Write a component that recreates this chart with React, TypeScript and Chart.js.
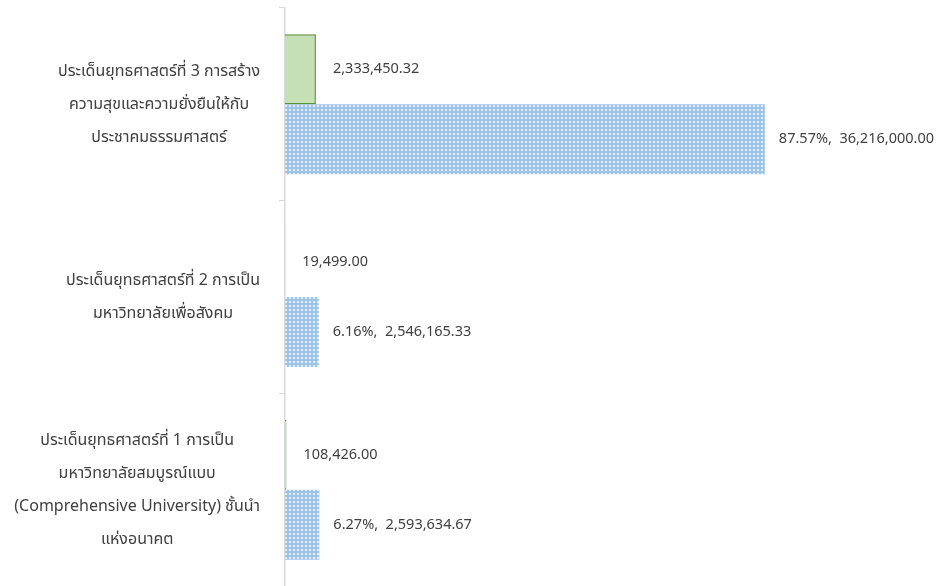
import React, { useEffect, useRef } from "react";
import { Chart, registerables } from "chart.js";

Chart.register(...registerables);

const categories: string[][] = [
  ["ประเด็นยุทธศาสตร์ที่ 3 การสร้าง", "ความสุขและความยั่งยืนให้กับ", "ประชาคมธรรมศาสตร์"],
  ["ประเด็นยุทธศาสตร์ที่ 2 การเป็น", "มหาวิทยาลัยเพื่อสังคม"],
  ["ประเด็นยุทธศาสตร์ที่ 1 การเป็น", "มหาวิทยาลัยสมบูรณ์แบบ", "(Comprehensive University) ชั้นนำ", "แห่งอนาคต"],
];
const greenValues = [2333450.32, 19499.0, 108426.0];
const blueValues = [36216000.0, 2546165.33, 2593634.67];

const FONT = '"Noto Sans", "Noto Sans Thai", "Leelawadee UI", Tahoma, sans-serif';
const TEXT = "#404040";

function fmt(v: number) {
  return v.toLocaleString("en-US", { minimumFractionDigits: 2, maximumFractionDigits: 2 });
}

function makePattern(): CanvasPattern | string {
  const c = document.createElement("canvas");
  c.width = 4;
  c.height = 4;
  const g = c.getContext("2d");
  if (!g) return "#9dc3e6";
  g.fillStyle = "#9dc3e6";
  g.fillRect(0, 0, 4, 4);
  g.fillStyle = "#e4eefa";
  g.fillRect(1, 1, 2, 2);
  return g.createPattern(c, "repeat") || "#9dc3e6";
}

const labelPlugin = {
  id: "customLabels",
  afterDraw(chart: any) {
    const ctx = chart.ctx;
    const yScale = chart.scales.y;
    ctx.save();
    // category labels
    ctx.font = `16px ${FONT}`;
    ctx.fillStyle = TEXT;
    ctx.textBaseline = "middle";
    ctx.textAlign = "center";
    const right = yScale.right - 25;
    const lh = 33;
    categories.forEach((lines, i) => {
      const cy = yScale.getPixelForValue(i);
      const widest = Math.max(...lines.map((l) => ctx.measureText(l).width));
      const cx = right - widest / 2;
      const start = cy - ((lines.length - 1) * lh) / 2;
      lines.forEach((l, j) => ctx.fillText(l, cx, start + j * lh));
    });
    // data labels
    ctx.font = `14.5px ${FONT}`;
    ctx.textAlign = "left";
    const blueTotal = blueValues.reduce((a, b) => a + b, 0);
    chart.data.datasets.forEach((ds: any, di: number) => {
      const meta = chart.getDatasetMeta(di);
      meta.data.forEach((el: any, i: number) => {
        const v = ds.data[i];
        let t = fmt(v);
        let off = 17;
        if (di === 1) {
          t = ((v / blueTotal) * 100).toFixed(2) + "%,  " + fmt(v);
          off = 14;
        }
        ctx.fillText(t, el.x + off, el.y);
      });
    });
    ctx.restore();
  },
};

export default function App() {
  const ref = useRef<HTMLCanvasElement | null>(null);
  useEffect(() => {
    if (!ref.current) return;
    const chart = new Chart(ref.current, {
      type: "bar",
      data: {
        labels: categories.map((c) => c.join(" ")),
        datasets: [
          {
            label: "green",
            data: greenValues,
            backgroundColor: "#c5e0b4",
            borderColor: "#5a9236",
            borderWidth: 1.5,
            categoryPercentage: 0.727,
            barPercentage: 1,
          },
          {
            label: "blue",
            data: blueValues,
            backgroundColor: makePattern() as any,
            borderWidth: 0,
            categoryPercentage: 0.727,
            barPercentage: 1,
          },
        ],
      },
      options: {
        indexAxis: "y",
        animation: false,
        responsive: false,
        maintainAspectRatio: false,
        layout: { padding: { top: 8, bottom: 0, left: 0, right: 17 } },
        plugins: { legend: { display: false }, tooltip: { enabled: false } },
        scales: {
          x: { display: false, min: 0, max: 48000000 },
          y: {
            afterFit: (s: any) => {
              s.width = 285;
            },
            grid: {
              display: true,
              drawOnChartArea: false,
              drawTicks: true,
              tickLength: 6,
              color: "#d9d9d9",
              offset: true,
            },
            border: { display: true, color: "#d9d9d9", width: 1.5 },
            ticks: { display: false },
          },
        },
      },
      plugins: [labelPlugin],
    });
    return () => chart.destroy();
  }, []);
  return (
    <div style={{ position: "absolute", left: 0, top: 0, width: 938, height: 586, background: "#fff" }}>
      <canvas ref={ref} width={938} height={586} style={{ width: 938, height: 586 }} />
    </div>
  );
}
